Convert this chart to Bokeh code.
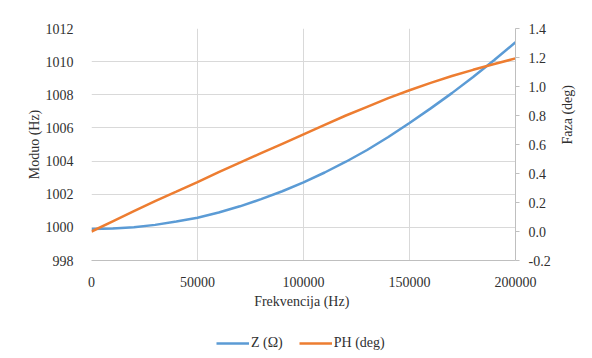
import math
from bokeh.plotting import figure
from bokeh.layouts import column
from bokeh.models import Range1d, LinearAxis, FixedTicker, Legend, LegendItem
from bokeh.embed import file_html
from bokeh.resources import INLINE

# ---- data ----
freq = [0, 10000, 20000, 30000, 40000, 50000, 60000, 70000, 80000, 90000, 100000,
        110000, 120000, 130000, 140000, 150000, 160000, 170000, 180000, 190000, 200000]
z_mod = [999.90, 999.93, 1000.01, 1000.15, 1000.35, 1000.58, 1000.90, 1001.27, 1001.70, 1002.18, 1002.72,
         1003.31, 1003.96, 1004.67, 1005.45, 1006.30, 1007.18, 1008.10, 1009.07, 1010.10, 1011.17]
ph_deg = [0.00, 0.07, 0.14, 0.21, 0.275, 0.341, 0.41, 0.475, 0.54, 0.605, 0.67,
          0.735, 0.80, 0.86, 0.92, 0.974, 1.025, 1.072, 1.115, 1.155, 1.194]

x_ticks = [0, 50000, 100000, 150000, 200000]
x_tick_labels = ["0", "50000", "100000", "150000", "200000"]
y_ticks = [998, 1000, 1002, 1004, 1006, 1008, 1010, 1012]
y_tick_labels = ["998", "1000", "1002", "1004", "1006", "1008", "1010", "1012"]
y2_ticks = [-0.2, 0.0, 0.2, 0.4, 0.6, 0.8, 1.0, 1.2, 1.4]
y2_tick_labels = ["-0.2", "0.0", "0.2", "0.4", "0.6", "0.8", "1.0", "1.2", "1.4"]

series_names = ["Z (Ω)", "PH (deg)"]
BLUE = "#5B9BD5"
ORANGE = "#ED7D31"
FONT = "Liberation Serif"
TXT = "#303030"
GRID = "#d9d9d9"
AXL = "#bfbfbf"

W = 91 + 424 + 61
p = figure(width=W, height=310, frame_width=424, frame_height=232,
           min_border_left=91, min_border_right=61, min_border_top=28, min_border_bottom=50,
           x_range=Range1d(0, 200000), y_range=Range1d(998, 1012),
           output_backend="svg", toolbar_location=None, tools="")
p.outline_line_color = None
p.background_fill_color = "white"
p.border_fill_color = "white"

p.extra_y_ranges = {"ph": Range1d(-0.2, 1.4)}

xa = p.xaxis[0]
xa.ticker = FixedTicker(ticks=x_ticks)
xa.major_label_overrides = {t: l for t, l in zip(x_ticks, x_tick_labels)}
xa.axis_label = "Frekvencija  (Hz)"
ya = p.yaxis[0]
ya.ticker = FixedTicker(ticks=y_ticks)
ya.major_label_overrides = {t: l for t, l in zip(y_ticks, y_tick_labels)}
ya.axis_label = "Moduo (Hz)"

ra = LinearAxis(y_range_name="ph", ticker=FixedTicker(ticks=y2_ticks), axis_label="Faza  (deg)")
ra.major_label_overrides = {t: l for t, l in zip(y2_ticks, y2_tick_labels)}
ra.axis_label_orientation = math.pi / 2
ra.axis_label_text_align = "center"
p.add_layout(ra, "right")

for ax in (xa, ya, ra):
    ax.major_label_text_font = FONT
    ax.major_label_text_font_size = "14px"
    ax.major_label_text_color = TXT
    ax.axis_label_text_font = FONT
    ax.axis_label_text_font_size = "14px"
    ax.axis_label_text_font_style = "normal"
    ax.axis_label_text_color = TXT
    ax.minor_tick_line_color = None

xa.axis_line_color = AXL
xa.major_tick_line_color = None
xa.major_label_standoff = 10
xa.axis_label_standoff = 4
ya.axis_line_color = None
ya.major_tick_line_color = None
ya.major_label_standoff = 12
ya.axis_label_standoff = 1
ra.axis_line_color = AXL
ra.major_tick_line_color = AXL
ra.major_tick_in = 0
ra.major_tick_out = 4
ra.major_label_standoff = 9
ra.axis_label_standoff = 14

p.xgrid.grid_line_color = GRID
p.ygrid.grid_line_color = GRID
p.xgrid.ticker = FixedTicker(ticks=x_ticks)
p.ygrid.ticker = FixedTicker(ticks=y_ticks)

r1 = p.line(freq, z_mod, line_color=BLUE, line_width=2.5)
r2 = p.line(freq, ph_deg, line_color=ORANGE, line_width=2.5, y_range_name="ph")

# legend strip under the chart (its lines lie outside its own view; only the legend shows)
q = figure(width=W, height=40, x_range=Range1d(-2, -1), y_range=Range1d(-2, -1),
           min_border=0, x_axis_location=None, y_axis_location=None,
           output_backend="svg", toolbar_location=None, tools="")
q.outline_line_color = None
q.grid.grid_line_color = None
q.background_fill_color = "white"
q.border_fill_color = "white"
l1 = q.line(freq, z_mod, line_color=BLUE, line_width=2.5)
l2 = q.line(freq, ph_deg, line_color=ORANGE, line_width=2.5)
legend = Legend(items=[LegendItem(label=series_names[0], renderers=[l1]),
                       LegendItem(label=series_names[1], renderers=[l2])],
                orientation="horizontal", location=(125, 0),
                padding=0, margin=0, spacing=16, glyph_width=33, glyph_height=14,
                label_height=14, label_standoff=2,
                label_text_font=FONT, label_text_font_size="14px", label_text_color=TXT,
                border_line_color=None, background_fill_alpha=0)
q.add_layout(legend, "center")

layout = column(p, q, spacing=0)
open("out.html", "w").write(file_html(layout, INLINE))
